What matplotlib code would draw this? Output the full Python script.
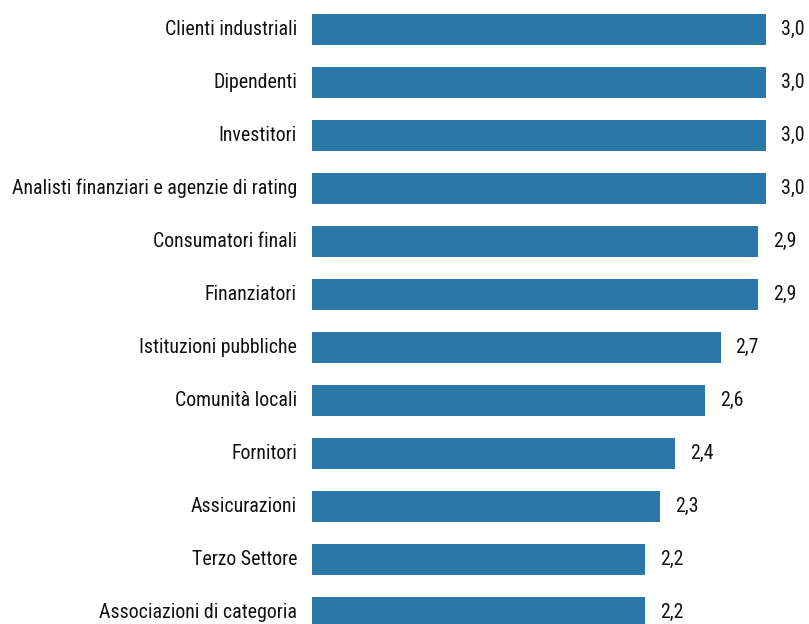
import math
import matplotlib
matplotlib.use('Agg')
import matplotlib.pyplot as plt

categories = ["Clienti industriali", "Dipendenti", "Investitori",
              "Analisti finanziari e agenzie di rating", "Consumatori finali",
              "Finanziatori", "Istituzioni pubbliche", "Comunità locali",
              "Fornitori", "Assicurazioni", "Terzo Settore",
              "Associazioni di categoria"]
values = [3.0, 3.0, 3.0, 3.0, 2.95, 2.95, 2.70, 2.60, 2.40, 2.30, 2.20, 2.20]

plt.rcParams['font.family'] = ['Roboto Condensed', 'DejaVu Sans']

W, H = 809, 624
fig = plt.figure(figsize=(W / 100, H / 100), dpi=100)
x0, x1 = 312, 766
ax = fig.add_axes([x0 / W, 0, (x1 - x0) / W, 1])

step = 53.0
first = 29.5
ypos = list(range(len(categories)))
ax.barh(ypos, values, height=31 / step, color='#2b77a8')
ax.set_xlim(0, 3.0)
ax.set_ylim((H - first) / step, -first / step)

pad = 15 * 3.0 / (x1 - x0)
for i, (c, v) in enumerate(zip(categories, values)):
    ax.text(-pad, i, c, ha='right', va='center', fontsize=14.3, color='#111111', clip_on=False)
    # le etichette mostrano il valore troncato a una cifra decimale
    lbl = "%.1f" % (math.floor(v * 10 + 1e-6) / 10)
    ax.text(v + pad, i, lbl.replace('.', ','), ha='left', va='center', fontsize=14.3,
            color='#111111', clip_on=False)

ax.axis('off')
fig.savefig('out.png', dpi=100)
